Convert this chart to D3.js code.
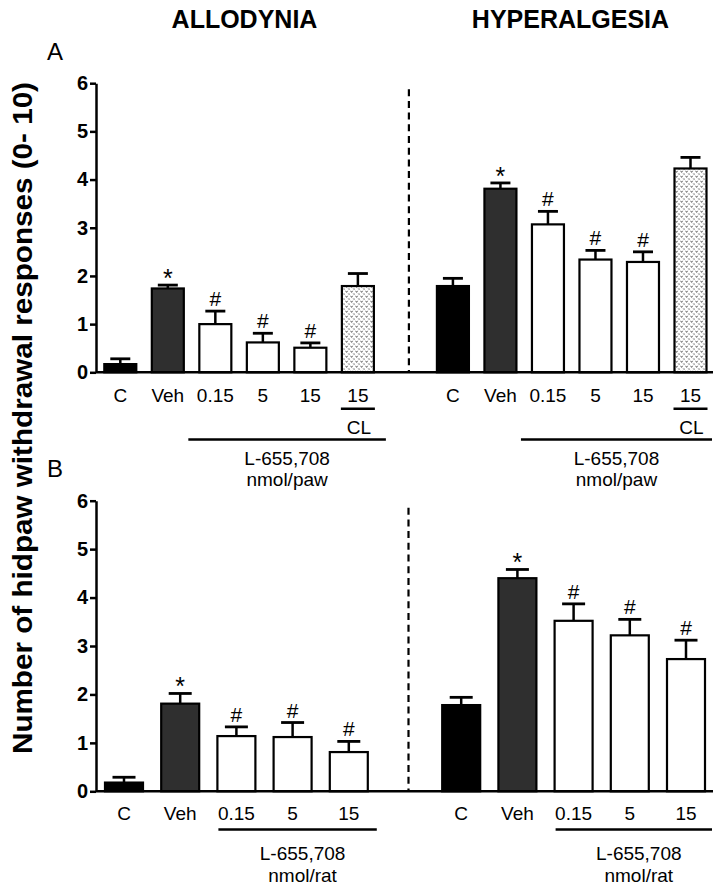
<!DOCTYPE html>
<html><head><meta charset="utf-8">
<script src="https://cdn.jsdelivr.net/npm/d3@7"></script>
<style>body{margin:0;background:#fff}svg{display:block}</style>
</head><body>
<script>
// ---- data ----
const catsA = ["C","Veh","0.15","5","15","15"];
const catsB = ["C","Veh","0.15","5","15"];
const allodyniaA = [0.17, 1.74, 1.00, 0.62, 0.51, 1.79];
const allodyniaAErr = [0.11, 0.07, 0.27, 0.19, 0.10, 0.26];
const hyperalgesiaA = [1.79, 3.81, 3.07, 2.34, 2.29, 4.23];
const hyperalgesiaAErr = [0.16, 0.12, 0.27, 0.19, 0.21, 0.23];
const allodyniaB = [0.18, 1.81, 1.14, 1.12, 0.81];
const allodyniaBErr = [0.11, 0.21, 0.19, 0.30, 0.22];
const hyperalgesiaB = [1.78, 4.40, 3.52, 3.22, 2.73];
const hyperalgesiaBErr = [0.16, 0.18, 0.35, 0.33, 0.39];
const marksA = ["", "*", "#", "#", "#", ""];
const marksB = ["", "*", "#", "#", "#"];
const fillsA = ["black", "veh", "white", "white", "white", "cl"];
const fillsB = ["black", "veh", "white", "white", "white"];
const yTicks = [0,1,2,3,4,5,6];
const titles = ["ALLODYNIA", "HYPERALGESIA"];
const yLabel = "Number of hidpaw withdrawal responses (0- 10)";

const W = 725, H = 892;
const FONT = "Arial, 'Liberation Sans', sans-serif";
const svg = d3.select("body").append("svg").attr("width", W).attr("height", H);

// pattern for CL bar
const defs = svg.append("defs");
const pat = defs.append("pattern").attr("id","clpat").attr("patternUnits","userSpaceOnUse")
  .attr("width",5).attr("height",5);
pat.append("rect").attr("width",5).attr("height",5).attr("fill","#fff");
pat.append("path").attr("d","M0.6,0.8 L1.6,2.4 L2.6,0.8").attr("fill","none").attr("stroke","#555").attr("stroke-width",0.9);
pat.append("path").attr("d","M3.1,3.3 L4.1,4.7 L5,3.3").attr("fill","none").attr("stroke","#777").attr("stroke-width",0.8);

function fillOf(f){ return f==="black" ? "#000" : f==="veh" ? "#2f2f2f" : f==="cl" ? "url(#clpat)" : "#fff"; }

function panel(opt){
  const g = svg.append("g");
  const y = d3.scaleLinear().domain([0,6]).range([opt.y0, opt.y6]);
  const n = opt.cats.length;
  const keys = [];
  opt.cats.forEach((c,i)=>keys.push("L"+i));
  keys.push("gap");
  opt.cats.forEach((c,i)=>keys.push("R"+i));
  const x = d3.scalePoint().domain(keys).range(opt.xr);
  // y axis
  const ax = g.append("g").attr("transform",`translate(${opt.axX},0)`)
    .call(d3.axisLeft(y).tickValues(yTicks).tickSize(6).tickSizeOuter(0).tickPadding(2).tickFormat(d3.format("d")));
  ax.select(".domain").attr("stroke","#000").attr("stroke-width",2.5);
  ax.selectAll(".tick line").attr("stroke","#000").attr("stroke-width",2.5);
  ax.selectAll(".tick text").attr("font-family",FONT).attr("font-weight","bold").attr("font-size",20).attr("fill","#000");
  // dashed separator
  g.append("line").attr("x1",x("gap")+3.5).attr("x2",x("gap")+3.5)
    .attr("y1",y(6)+opt.dashTop).attr("y2",y(0)).attr("stroke","#000").attr("stroke-width",2.2)
    .attr("stroke-dasharray","7,4.7");
  const sides = [{p:"L", v:opt.left, e:opt.leftErr},{p:"R", v:opt.right, e:opt.rightErr}];
  const bw = opt.bw;
  sides.forEach(s=>{
    s.v.forEach((v,i)=>{
      const cx = x(s.p+i);
      g.append("rect").attr("x",cx-bw/2).attr("y",y(v)).attr("width",bw).attr("height",y(0)-y(v))
        .attr("fill",fillOf(opt.fills[i])).attr("stroke","#000").attr("stroke-width",2.2);
      const top = y(v+s.e[i]);
      g.append("line").attr("x1",cx).attr("x2",cx).attr("y1",y(v)).attr("y2",top).attr("stroke","#000").attr("stroke-width",2.5);
      g.append("line").attr("x1",cx-opt.cap/2).attr("x2",cx+opt.cap/2).attr("y1",top).attr("y2",top).attr("stroke","#000").attr("stroke-width",2.8);
      const m = opt.marks[i];
      if(m){
        g.append("text").attr("x",cx).attr("y", m==="*" ? top+2 : top-5).attr("text-anchor","middle")
          .attr("font-family",FONT).attr("font-size", m==="*" ? 25 : 21).attr("fill","#000").text(m);
      }
      g.append("text").attr("x",cx).attr("y",opt.labY).attr("text-anchor","middle")
        .attr("font-family",FONT).attr("font-size",19).attr("fill","#000").text(opt.cats[i]);
    });
    // group annotation
    const first = x(s.p+"2"), last = x(s.p+(n-1));
    const x1 = first + opt.lineStart, x2 = Math.min(last + opt.lineEnd, opt.axEnd - 1);
    g.append("line").attr("x1",x1).attr("x2",x2).attr("y1",opt.lineY).attr("y2",opt.lineY).attr("stroke","#000").attr("stroke-width",2.5);
    const mid = (x1+x2)/2 + opt.txtShift;
    g.append("text").attr("x",mid).attr("y",opt.drugY).attr("text-anchor","middle").attr("font-family",FONT).attr("font-size",19).text("L-655,708");
    g.append("text").attr("x",mid).attr("y",opt.unitY).attr("text-anchor","middle").attr("font-family",FONT).attr("font-size",19).text(opt.unit);
    if(opt.cl){
      const c = x(s.p+(n-1));
      g.append("line").attr("x1",c-17).attr("x2",c+17).attr("y1",408.7).attr("y2",408.7).attr("stroke","#000").attr("stroke-width",2.5);
      g.append("text").attr("x",c+1).attr("y",434).attr("text-anchor","middle").attr("font-family",FONT).attr("font-size",19).text("CL");
    }
  });
  // x axis line
  g.append("line").attr("x1",opt.axX).attr("x2",opt.axEnd).attr("y1",y(0)).attr("y2",y(0)).attr("stroke","#000").attr("stroke-width",2.5);
  g.append("text").attr("x",55).attr("y",opt.letterY).attr("text-anchor","middle").attr("font-family",FONT).attr("font-size",24).text(opt.letter);
}

panel({cats:catsA, left:allodyniaA, leftErr:allodyniaAErr, right:hyperalgesiaA, rightErr:hyperalgesiaAErr,
  marks:marksA, fills:fillsA, y0:372.3, y6:83.2, xr:[120.3, 690.5], axX:96, axEnd:713, bw:32, cap:20,
  dashTop:6, labY:401.5, lineY:439.5, lineStart:-27, lineEnd:28, txtShift:0, drugY:465, unitY:486,
  unit:"nmol/paw", cl:true, letter:"A", letterY:60});
panel({cats:catsB, left:allodyniaB, leftErr:allodyniaBErr, right:hyperalgesiaB, rightErr:hyperalgesiaBErr,
  marks:marksB, fills:fillsB, y0:791.3, y6:500.7, xr:[124, 686], axX:96, axEnd:713, bw:38, cap:23,
  dashTop:7, labY:820, lineY:829.5, lineStart:-18, lineEnd:28, txtShift:5, drugY:860, unitY:882,
  unit:"nmol/rat", cl:false, letter:"B", letterY:477});

// titles
svg.append("text").attr("x",244.5).attr("y",28).attr("text-anchor","middle").attr("font-family",FONT)
  .attr("font-weight","bold").attr("font-size",25).text(titles[0]);
svg.append("text").attr("x",570.5).attr("y",28).attr("text-anchor","middle").attr("font-family",FONT)
  .attr("font-weight","bold").attr("font-size",25).text(titles[1]);
// y label
svg.append("text").attr("transform","translate(32,418) rotate(-90)").attr("text-anchor","middle")
  .attr("font-family",FONT).attr("font-weight","bold").attr("font-size",27)
  .attr("textLength",672).attr("lengthAdjust","spacingAndGlyphs").text(yLabel);
</script>
</body></html>
